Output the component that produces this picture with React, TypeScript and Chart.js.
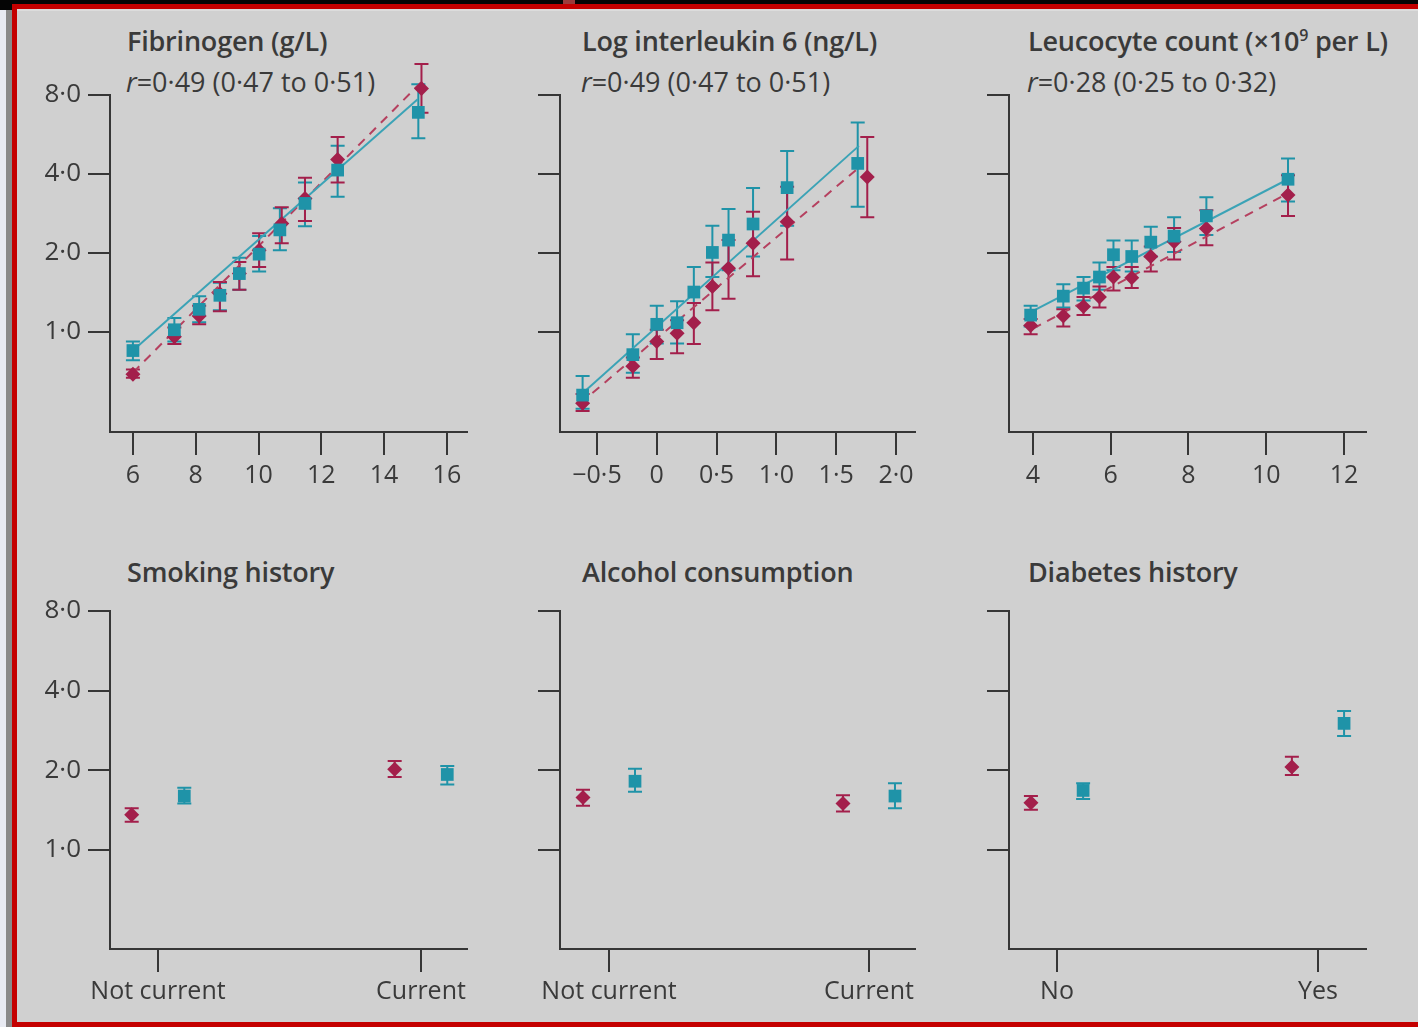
import React, { useEffect, useRef } from 'react';
import { Chart, registerables } from 'chart.js';
Chart.register(...registerables);

const TEAL = '#1f93a8';
const TEAL_LINE = '#3ba3b6';
const RED = '#a31f4b';
const RED_LINE = '#b5405f';
const AX = '#363636';
const TXT = '#3a3a3a';
const FONT = '"Open Sans", "DejaVu Sans", sans-serif';

// ---------- Shared y axis (log scale) ----------
const yTickVals = [1, 2, 4, 8];
const yTickLabels = ['1·0', '2·0', '4·0', '8·0'];

// ---------- Panel 1: Fibrinogen ----------
const fibTickVals = [6, 8, 10, 12, 14, 16];
const fibTickLabels = ['6', '8', '10', '12', '14', '16'];
const fibTealX = [6.0, 7.32, 8.11, 8.77, 9.39, 10.02, 10.68, 11.48, 12.52, 15.09];
const fibTealY = [0.85, 1.02, 1.22, 1.38, 1.67, 1.98, 2.45, 3.09, 4.14, 6.87];
const fibTealLo = [0.78, 0.92, 1.09, 1.21, 1.45, 1.70, 2.05, 2.53, 3.28, 5.47];
const fibTealHi = [0.92, 1.13, 1.37, 1.54, 1.92, 2.32, 2.96, 3.71, 5.12, 8.79];
const fibRedX = [6.0, 7.32, 8.11, 8.77, 9.39, 10.02, 10.74, 11.48, 12.52, 15.19];
const fibRedY = [0.69, 0.96, 1.15, 1.40, 1.67, 2.05, 2.59, 3.23, 4.54, 8.47];
const fibRedLo = [0.67, 0.90, 1.07, 1.20, 1.45, 1.77, 2.18, 2.65, 3.71, 6.85];
const fibRedHi = [0.72, 1.04, 1.26, 1.55, 1.85, 2.38, 2.99, 3.87, 5.53, 10.5];
const fibFitTealX = [6.0, 15.07];
const fibFitTealY = [0.85, 7.7];
const fibFitRedX = [6.0, 15.2];
const fibFitRedY = [0.70, 9.0];

// ---------- Panel 2: Log interleukin 6 ----------
const il6TickVals = [-0.5, 0, 0.5, 1, 1.5, 2];
const il6TickLabels = ['−0·5', '0', '0·5', '1·0', '1·5', '2·0'];
const il6TealX = [-0.62, -0.20, 0.0, 0.17, 0.31, 0.465, 0.60, 0.805, 1.09, 1.68];
const il6TealY = [0.575, 0.82, 1.07, 1.085, 1.42, 2.01, 2.24, 2.58, 3.55, 4.39];
const il6TealLo = [0.51, 0.70, 0.905, 0.905, 1.29, 1.62, 1.72, 1.94, 2.54, 3.0];
const il6TealHi = [0.68, 0.98, 1.26, 1.31, 1.77, 2.54, 2.94, 3.54, 4.90, 6.28];
const il6RedX = [-0.62, -0.20, 0.0, 0.17, 0.31, 0.465, 0.60, 0.805, 1.09, 1.76];
const il6RedY = [0.535, 0.74, 0.92, 0.99, 1.085, 1.49, 1.75, 2.18, 2.63, 3.90];
const il6RedLo = [0.50, 0.67, 0.79, 0.83, 0.90, 1.21, 1.34, 1.63, 1.89, 2.74];
const il6RedHi = [0.58, 0.80, 1.02, 1.11, 1.29, 1.84, 2.24, 2.87, 3.58, 5.53];
const il6FitTealX = [-0.62, 1.69];
const il6FitTealY = [0.584, 5.12];
const il6FitRedX = [-0.64, 1.70];
const il6FitRedY = [0.535, 4.27];

// ---------- Panel 3: Leucocyte count ----------
const leuTickVals = [4, 6, 8, 10, 12];
const leuTickLabels = ['4', '6', '8', '10', '12'];
const leuTealX = [3.94, 4.78, 5.30, 5.71, 6.07, 6.54, 7.03, 7.63, 8.46, 10.56];
const leuTealY = [1.16, 1.37, 1.47, 1.62, 1.97, 1.94, 2.20, 2.32, 2.77, 3.82];
const leuTealLo = [1.05, 1.24, 1.32, 1.45, 1.72, 1.70, 1.94, 2.02, 2.34, 3.14];
const leuTealHi = [1.26, 1.52, 1.62, 1.84, 2.23, 2.23, 2.52, 2.74, 3.26, 4.58];
const leuRedX = [3.94, 4.78, 5.30, 5.71, 6.07, 6.54, 7.03, 7.63, 8.46, 10.56];
const leuRedY = [1.06, 1.15, 1.25, 1.36, 1.62, 1.61, 1.94, 2.21, 2.48, 3.33];
const leuRedLo = [0.98, 1.05, 1.16, 1.24, 1.44, 1.47, 1.70, 1.89, 2.14, 2.77];
const leuRedHi = [1.12, 1.22, 1.36, 1.49, 1.77, 1.77, 2.12, 2.49, 2.91, 3.96];
const leuFitTealX = [3.94, 10.56];
const leuFitTealY = [1.19, 3.82];
const leuFitRedX = [4.0, 10.56];
const leuFitRedY = [1.03, 3.38];

// ---------- Panel 4: Smoking history ----------
const smokeCats = ['Not current', 'Current'];
const smokeRed = [1.36, 2.02];
const smokeRedLo = [1.28, 1.89];
const smokeRedHi = [1.44, 2.17];
const smokeTeal = [1.60, 1.93];
const smokeTealLo = [1.50, 1.77];
const smokeTealHi = [1.72, 2.08];

// ---------- Panel 5: Alcohol consumption ----------
const alcCats = ['Not current', 'Current'];
const alcRed = [1.58, 1.50];
const alcRedLo = [1.47, 1.40];
const alcRedHi = [1.69, 1.61];
const alcTeal = [1.82, 1.60];
const alcTealLo = [1.66, 1.44];
const alcTealHi = [2.03, 1.79];

// ---------- Panel 6: Diabetes history ----------
const diabCats = ['No', 'Yes'];
const diabRed = [1.51, 2.06];
const diabRedLo = [1.42, 1.92];
const diabRedHi = [1.60, 2.25];
const diabTeal = [1.68, 3.01];
const diabTealLo = [1.56, 2.70];
const diabTealHi = [1.79, 3.35];

type Series = { x: number[]; y: number[]; lo: number[]; hi: number[] };
type Fit = { x: number[]; y: number[] };
type PanelCfg = {
  left: number; top: number; width: number; height: number;
  aLeft: number; aRight: number; aTop: number; aBottom: number;
  xMin: number; xMax: number; yMin: number; yMax: number;
  xTicks: number[]; xLabels: string[]; showYLabels: boolean;
  xLabelPad: number;
  teal: Series; red: Series; fitTeal?: Fit; fitRed?: Fit;
};

const errorBarPlugin = {
  id: 'errbars',
  beforeDatasetsDraw(chart: any) {
    const ctx = chart.ctx;
    const xs = chart.scales.x;
    const ys = chart.scales.y;
    chart.data.datasets.forEach((ds: any) => {
      if (!ds.errLo) return;
      ctx.save();
      ctx.strokeStyle = ds.errColor;
      ctx.lineWidth = 2;
      ds.data.forEach((p: any, i: number) => {
        const px = xs.getPixelForValue(p.x);
        const yl = ys.getPixelForValue(ds.errLo[i]);
        const yh = ys.getPixelForValue(ds.errHi[i]);
        ctx.beginPath();
        ctx.moveTo(px, yl); ctx.lineTo(px, yh);
        ctx.moveTo(px - 7, yl); ctx.lineTo(px + 7, yl);
        ctx.moveTo(px - 7, yh); ctx.lineTo(px + 7, yh);
        ctx.stroke();
      });
      ctx.restore();
    });
  },
};

function pts(x: number[], y: number[]) {
  return x.map((v, i) => ({ x: v, y: y[i] }));
}

function Panel({ cfg }: { cfg: PanelCfg }) {
  const ref = useRef<HTMLCanvasElement | null>(null);
  useEffect(() => {
    if (!ref.current) return;
    const datasets: any[] = [
      {
        label: 'teal', data: pts(cfg.teal.x, cfg.teal.y), errLo: cfg.teal.lo, errHi: cfg.teal.hi, errColor: TEAL,
        pointStyle: 'rect', pointRadius: 9, backgroundColor: TEAL, borderColor: TEAL, borderWidth: 0,
        showLine: false, clip: false, order: 0,
      },
      {
        label: 'red', data: pts(cfg.red.x, cfg.red.y), errLo: cfg.red.lo, errHi: cfg.red.hi, errColor: RED,
        pointStyle: 'rectRot', pointRadius: 7.5, backgroundColor: RED, borderColor: RED, borderWidth: 0,
        showLine: false, clip: false, order: 1,
      },
    ];
    if (cfg.fitTeal) datasets.push({
      label: 'fitTeal', data: pts(cfg.fitTeal.x, cfg.fitTeal.y), showLine: true, borderColor: TEAL_LINE,
      borderWidth: 2, pointRadius: 0, fill: false, clip: false, order: 2,
    });
    if (cfg.fitRed) datasets.push({
      label: 'fitRed', data: pts(cfg.fitRed.x, cfg.fitRed.y), showLine: true, borderColor: RED_LINE,
      borderWidth: 2, borderDash: [9, 7], pointRadius: 0, fill: false, clip: false, order: 3,
    });
    const gridOpts = (len: number) => ({
      drawOnChartArea: false, drawTicks: true, tickLength: len, color: AX, lineWidth: 2,
    });
    const chart = new Chart(ref.current, {
      type: 'scatter',
      data: { datasets },
      plugins: [errorBarPlugin],
      options: {
        animation: false,
        responsive: false,
        events: [],
        layout: { padding: { top: cfg.aTop - cfg.top, right: cfg.left + cfg.width - cfg.aRight, left: 0, bottom: 0 } },
        plugins: { legend: { display: false }, tooltip: { enabled: false }, title: { display: false } },
        scales: {
          x: {
            type: 'linear', min: cfg.xMin, max: cfg.xMax,
            afterBuildTicks: (a: any) => { a.ticks = cfg.xTicks.map((v) => ({ value: v })); },
            afterFit: (s: any) => { s.height = cfg.top + cfg.height - cfg.aBottom; },
            ticks: {
              autoSkip: false, maxRotation: 0, minRotation: 0, padding: cfg.xLabelPad,
              color: TXT, font: { family: FONT, size: 25 },
              callback: (_v: any, i: number) => cfg.xLabels[i],
            },
            grid: gridOpts(23) as any,
            border: { color: AX, width: 2 },
          },
          y: {
            type: 'logarithmic', min: cfg.yMin, max: cfg.yMax,
            afterBuildTicks: (a: any) => { a.ticks = yTickVals.map((v) => ({ value: v })); },
            afterFit: (s: any) => { s.width = cfg.aLeft - cfg.left; },
            ticks: {
              autoSkip: false, padding: 7, color: TXT, font: { family: FONT, size: 26 },
              callback: (_v: any, i: number) => (cfg.showYLabels ? yTickLabels[i] : ''),
            },
            grid: gridOpts(22) as any,
            border: { color: AX, width: 2 },
          },
        },
      } as any,
    });
    return () => chart.destroy();
  }, [cfg]);
  return (
    <canvas
      ref={ref}
      width={cfg.width}
      height={cfg.height}
      style={{ position: 'absolute', left: cfg.left, top: cfg.top, width: cfg.width, height: cfg.height }}
    />
  );
}

function catSeries(vals: number[], lo: number[], hi: number[], off: number): Series {
  return { x: vals.map((_, i) => i + off), y: vals, lo, hi };
}

const TOP_Y = { top: 60, height: 440, aTop: 95, aBottom: 432, yMin: 0.416, yMax: 8 };
const BOT_Y = { top: 580, height: 440, aTop: 611, aBottom: 949, yMin: 0.423, yMax: 8 };
const COL1 = { left: 20, width: 470, aLeft: 110, aRight: 467 };
const COL2 = { left: 490, width: 450, aLeft: 560, aRight: 915 };
const COL3 = { left: 940, width: 460, aLeft: 1009, aRight: 1366 };

const panels: PanelCfg[] = [
  {
    ...COL1, ...TOP_Y, xMin: 5.27, xMax: 16.64, xTicks: fibTickVals, xLabels: fibTickLabels, showYLabels: true, xLabelPad: 6,
    teal: { x: fibTealX, y: fibTealY, lo: fibTealLo, hi: fibTealHi },
    red: { x: fibRedX, y: fibRedY, lo: fibRedLo, hi: fibRedHi },
    fitTeal: { x: fibFitTealX, y: fibFitTealY }, fitRed: { x: fibFitRedX, y: fibFitRedY },
  },
  {
    ...COL2, ...TOP_Y, xMin: -0.809, xMax: 2.159, xTicks: il6TickVals, xLabels: il6TickLabels, showYLabels: false, xLabelPad: 6,
    teal: { x: il6TealX, y: il6TealY, lo: il6TealLo, hi: il6TealHi },
    red: { x: il6RedX, y: il6RedY, lo: il6RedLo, hi: il6RedHi },
    fitTeal: { x: il6FitTealX, y: il6FitTealY }, fitRed: { x: il6FitRedX, y: il6FitRedY },
  },
  {
    ...COL3, ...TOP_Y, xMin: 3.383, xMax: 12.566, xTicks: leuTickVals, xLabels: leuTickLabels, showYLabels: false, xLabelPad: 6,
    teal: { x: leuTealX, y: leuTealY, lo: leuTealLo, hi: leuTealHi },
    red: { x: leuRedX, y: leuRedY, lo: leuRedLo, hi: leuRedHi },
    fitTeal: { x: leuFitTealX, y: leuFitTealY }, fitRed: { x: leuFitRedX, y: leuFitRedY },
  },
  {
    ...COL1, ...BOT_Y, xMin: -0.1825, xMax: 1.175, xTicks: [0, 1], xLabels: smokeCats, showYLabels: true, xLabelPad: 5,
    teal: catSeries(smokeTeal, smokeTealLo, smokeTealHi, 0.1),
    red: catSeries(smokeRed, smokeRedLo, smokeRedHi, -0.1),
  },
  {
    ...COL2, ...BOT_Y, xMin: -0.1885, xMax: 1.177, xTicks: [0, 1], xLabels: alcCats, showYLabels: false, xLabelPad: 5,
    teal: catSeries(alcTeal, alcTealLo, alcTealHi, 0.1),
    red: catSeries(alcRed, alcRedLo, alcRedHi, -0.1),
  },
  {
    ...COL3, ...BOT_Y, xMin: -0.184, xMax: 1.184, xTicks: [0, 1], xLabels: diabCats, showYLabels: false, xLabelPad: 5,
    teal: catSeries(diabTeal, diabTealLo, diabTealHi, 0.1),
    red: catSeries(diabRed, diabRedLo, diabRedHi, -0.1),
  },
];

const titleStyle = (left: number, top: number): React.CSSProperties => ({
  position: 'absolute', left, top, fontFamily: FONT, fontSize: 27, fontWeight: 600, lineHeight: '27px',
  color: TXT, whiteSpace: 'nowrap', letterSpacing: '-0.2px',
});
const subStyle = (left: number, top: number): React.CSSProperties => ({
  position: 'absolute', left, top, fontFamily: FONT, fontSize: 27, fontWeight: 400, lineHeight: '27px',
  color: TXT, whiteSpace: 'nowrap',
});
const box = (left: number, top: number, width: number, height: number, bg: string): React.CSSProperties => ({
  position: 'absolute', left, top, width, height, background: bg,
});

export default function App() {
  return (
    <div style={{ position: 'fixed', left: 0, top: 0, width: 1418, height: 1027, background: '#d0d0d0', overflow: 'hidden' }}>
      <div style={box(0, 0, 1418, 4, '#050505')} />
      <div style={box(0, 0, 12, 10, '#050505')} />
      <div style={box(0, 10, 6, 1017, '#e8eaf2')} />
      <div style={box(6, 10, 6, 1017, '#8a8a8a')} />
      <div style={box(12, 4, 1406, 5, '#c40000')} />
      <div style={box(12, 9, 1406, 2, '#dcdcdc')} />
      <div style={box(12, 4, 5, 1023, '#c40000')} />
      <div style={box(12, 1022, 1406, 5, '#c40000')} />
      <div style={box(563, 0, 12, 4, '#9c3a3a')} />

      <div style={titleStyle(127, 27)}>Fibrinogen (g/L)</div>
      <div style={subStyle(126, 68)}><i>r</i>=0·49 (0·47 to 0·51)</div>
      <div style={titleStyle(582, 27)}>Log interleukin 6 (ng/L)</div>
      <div style={subStyle(581, 68)}><i>r</i>=0·49 (0·47 to 0·51)</div>
      <div style={titleStyle(1028, 27)}>Leucocyte count (×10<sup style={{ fontSize: 16, verticalAlign: 'top', lineHeight: '16px' }}>9</sup> per L)</div>
      <div style={subStyle(1027, 68)}><i>r</i>=0·28 (0·25 to 0·32)</div>

      <div style={titleStyle(127, 558)}>Smoking history</div>
      <div style={titleStyle(582, 558)}>Alcohol consumption</div>
      <div style={titleStyle(1028, 558)}>Diabetes history</div>

      {panels.map((p, i) => (
        <Panel key={i} cfg={p} />
      ))}
    </div>
  );
}
